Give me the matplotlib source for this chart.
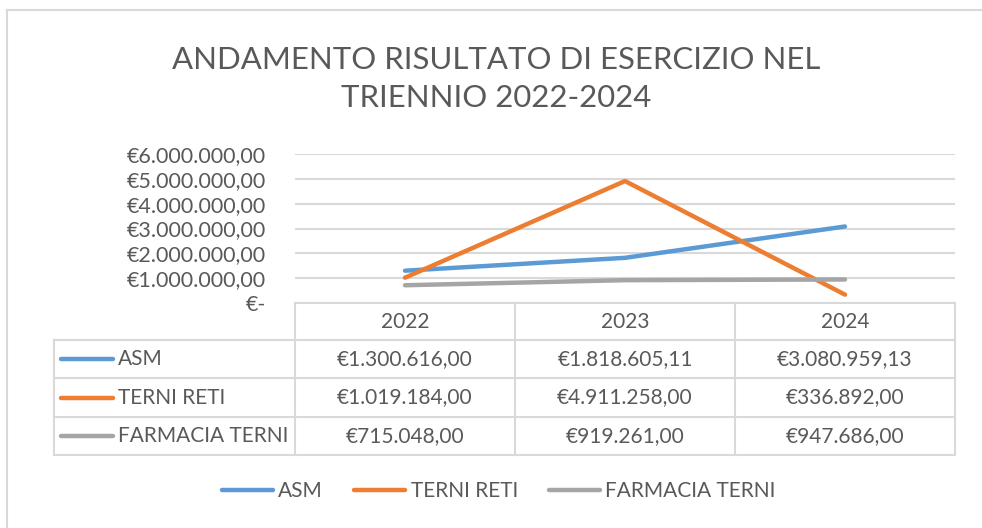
import matplotlib.pyplot as plt
from matplotlib.lines import Line2D
import numpy as np

# -----------------------------
# DATA
# -----------------------------
years = ["2022", "2023", "2024"]
series_names = ["ASM", "TERNI RETI", "FARMACIA TERNI"]
asm = [1300616.00, 1818605.11, 3080959.13]
terni_reti = [1019184.00, 4911258.00, 336892.00]
farmacia_terni = [715048.00, 919261.00, 947686.00]
colors = ["#5b9bd5", "#ed7d31", "#a5a5a5"]
title = "ANDAMENTO RISULTATO DI ESERCIZIO NEL\nTRIENNIO 2022-2024"

TXT = "#595959"
GRID = "#d9d9d9"
W, H = 982, 528

plt.rcParams['font.family'] = ['Lato', 'DejaVu Sans']


def fx(x):
    return x / W


def fy(y):
    return 1 - y / H


def euro(v):
    if v == 0:
        return "€-"
    s = f"{v:,.2f}"
    s = s.replace(",", "X").replace(".", ",").replace("X", ".")
    return "€" + s


fig = plt.figure(figsize=(W / 100, H / 100), dpi=100)

# chart area border (top + left only visible)
fig.add_artist(Line2D([fx(7), fx(982)], [fy(10), fy(10)], color=GRID, lw=1.5))
fig.add_artist(Line2D([fx(7), fx(7)], [fy(10), fy(528)], color=GRID, lw=1.5))

fig.text(fx(496), fy(79), title, ha="center", va="center", fontsize=22.4,
         color=TXT, linespacing=1.42)

# -----------------------------
# PLOT AREA
# -----------------------------
left, right, top, bottom = 295, 955, 154, 303
ax = fig.add_axes([fx(left), fy(bottom), fx(right - left), (bottom - top) / H])
x = np.arange(len(years))
all_series = [asm, terni_reti, farmacia_terni]
for vals, name, c in zip(all_series, series_names, colors):
    ax.plot(x, vals, color=c, lw=3.2, solid_capstyle="round",
            solid_joinstyle="round", label=name, zorder=3)

ax.set_xlim(-0.5, len(years) - 0.5)
ax.set_ylim(0, 6000000)
yt = np.arange(0, 6000001, 1000000)
ax.set_yticks(yt)
ax.set_yticklabels([euro(v) for v in yt], fontsize=15.5, color=TXT)
ax.tick_params(axis="y", length=0, pad=21)
ax.set_xticks([])
ax.grid(axis="y", color=GRID, lw=1.5, zorder=0)
for s in ["top", "right", "left"]:
    ax.spines[s].set_visible(False)
ax.spines["bottom"].set_color(GRID)
ax.spines["bottom"].set_linewidth(1.5)

# -----------------------------
# DATA TABLE
# -----------------------------
col_edges = [295, 515, 735, 955]
row_edges = [303, 340, 378, 417, 455]
for xe in col_edges:
    fig.add_artist(Line2D([fx(xe), fx(xe)], [fy(303), fy(455)], color=GRID, lw=1.5))
fig.add_artist(Line2D([fx(54), fx(54)], [fy(340), fy(455)], color=GRID, lw=1.5))
for ye in row_edges[1:]:
    fig.add_artist(Line2D([fx(54), fx(955)], [fy(ye), fy(ye)], color=GRID, lw=1.5))

for j, yr in enumerate(years):
    cx = (col_edges[j] + col_edges[j + 1]) / 2
    fig.text(fx(cx), fy(322), yr, ha="center", va="center", fontsize=15, color=TXT)

for i, (vals, name, c) in enumerate(zip(all_series, series_names, colors)):
    cy = (row_edges[i + 1] + row_edges[i + 2]) / 2
    fig.add_artist(Line2D([fx(61), fx(113)], [fy(cy), fy(cy)], color=c, lw=3.2,
                          solid_capstyle="round"))
    fig.text(fx(118), fy(cy), name, ha="left", va="center", fontsize=15, color=TXT)
    for j, v in enumerate(vals):
        cx = (col_edges[j] + col_edges[j + 1]) / 2
        fig.text(fx(cx), fy(cy), euro(v), ha="center", va="center",
                 fontsize=15, color=TXT)

# -----------------------------
# LEGEND
# -----------------------------
fig.legend(loc="center", bbox_to_anchor=(fx(499), fy(491)), ncol=3, frameon=False,
           fontsize=15, labelcolor=TXT, handlelength=2.45, handletextpad=0.25,
           columnspacing=1.5, borderpad=0, borderaxespad=0)

fig.savefig("out.png", dpi=100)
